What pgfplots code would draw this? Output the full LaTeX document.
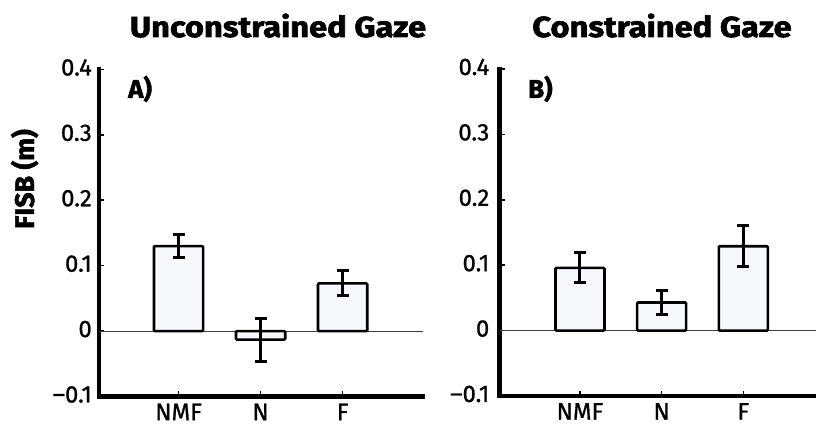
\documentclass[border=0pt]{standalone}
\usepackage{fontspec}
\setmainfont{Fira Sans}
\newfontfamily\tickfont[FakeBold=0.9]{Fira Sans}
\newfontfamily\heavyfont[FakeBold=1.8]{Fira Sans}
\newfontfamily\titlefont[FakeBold=2.2, FakeStretch=1.13]{Fira Sans}
\usepackage{pgfplots}
\pgfplotsset{compat=1.18}

\definecolor{barfill}{RGB}{246,248,252}

\pgfplotsset{
  fisb/.style={
    scale only axis,
    height=327bp,
    ymin=-0.1, ymax=0.4,
    axis x line=bottom, axis y line=left,
    axis line style={-, line width=4.4bp, line cap=rect},
    tick align=inside,
    major tick length=5bp,
    tick style={line width=1.6bp, black},
    xtick={1,2,3}, xticklabels={NMF,N,F},
    ytick={-0.1,0,0.1,0.2,0.3,0.4},
    yticklabels={\textendash0.1,0,0.1,0.2,0.3,0.4},
    tick label style={font=\tickfont\fontsize{24}{26}\selectfont},
    xticklabel style={anchor=north, inner sep=0pt, text depth=0pt, yshift=-7bp},
    yticklabel style={anchor=east, inner sep=0pt, yshift=2bp},
  },
  bars/.style={
    ybar, bar width=0.6, fill=barfill, draw=black, line width=2.6bp,
    rounded corners=1bp,
    error bars/.cd, y dir=both, y explicit,
    error mark=-,
    error bar style={line width=3bp, black, rounded corners=0pt},
    error mark options={rotate=90, line width=3bp, black, mark size=6bp},
  },
}

\begin{document}
\begin{tikzpicture}

% left panel: unconstrained gaze
\begin{axis}[fisb,
  at={(99bp,28.5bp)}, anchor=south west,
  width=324bp, xmin=0.03, xmax=3.98,
  yticklabel style={xshift=-7bp},
]
\addplot[line width=0.9bp, black!75, forget plot] coordinates {(0.03,0) (3.98,0)};
\addplot[bars] coordinates {
  (1,0.130) +- (0,0.0175)
  (2,-0.013) +- (0,0.033)
  (3,0.073) +- (0,0.019)
};
\end{axis}

% right panel: constrained gaze
\begin{axis}[fisb,
  at={(499.5bp,29bp)}, anchor=south west,
  width=316.5bp, xmin=0.015, xmax=3.89,
  yticklabel style={xshift=-10bp},
]
\addplot[line width=0.9bp, black!75, forget plot] coordinates {(0.015,0) (3.89,0)};
\addplot[bars] coordinates {
  (1,0.096) +- (0,0.023)
  (2,0.043) +- (0,0.018)
  (3,0.129) +- (0,0.031)
};
\end{axis}

\node[anchor=base, font=\titlefont\bfseries\fontsize{29}{31}\selectfont] at (278bp,388bp) {Unconstrained Gaze};
\node[anchor=base, font=\titlefont\bfseries\fontsize{29}{31}\selectfont] at (662bp,388bp) {Constrained Gaze};
\node[anchor=base, rotate=90, font=\heavyfont\bfseries\fontsize{27}{29}\selectfont] at (34bp,246bp) {FISB (m)};
\node[anchor=base west, inner sep=0pt, font=\heavyfont\bfseries\fontsize{26}{28}\selectfont] at (128bp,327bp) {A)};
\node[anchor=base west, inner sep=0pt, font=\heavyfont\bfseries\fontsize{26}{28}\selectfont] at (528bp,327bp) {B)};

\pgfresetboundingbox
\path[use as bounding box] (0,0) rectangle (816bp,425bp);
\end{tikzpicture}
\end{document}
